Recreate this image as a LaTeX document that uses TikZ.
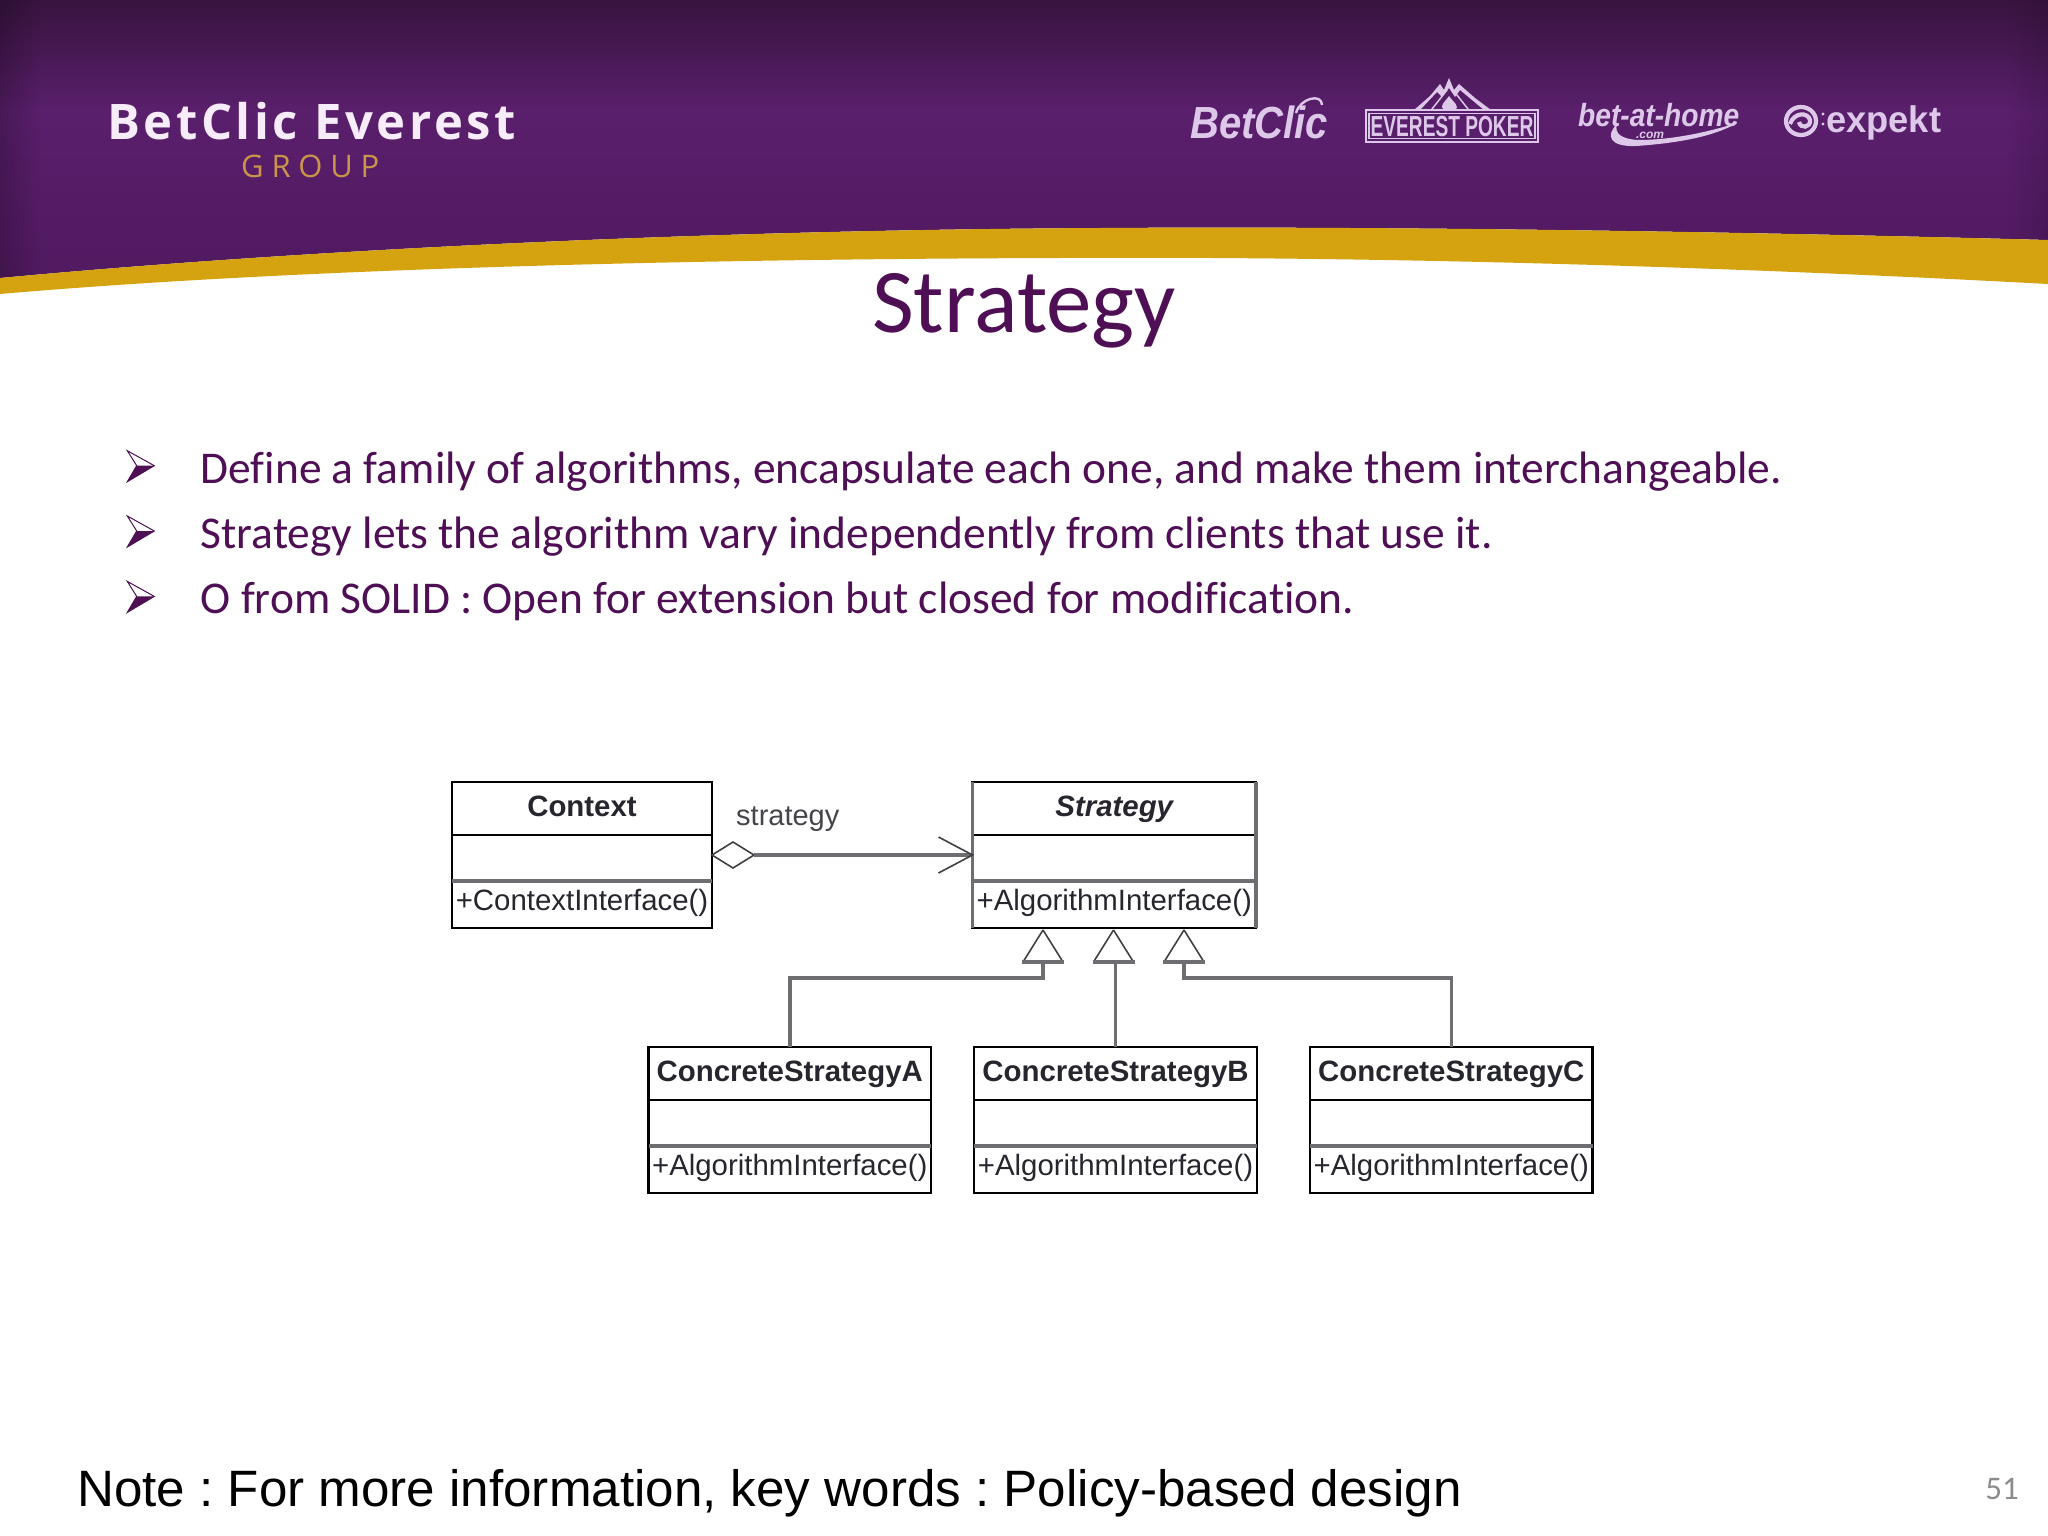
\documentclass[tikz,border=0pt]{standalone}
\usepackage{fontspec}
\usetikzlibrary{fadings,calc}
\setmainfont{Liberation Sans}
\newfontfamily\calfont[Ligatures=NoCommon]{Carlito}
\newfontfamily\logofont[LetterSpace=7.3]{Open Sans}
\newfontfamily\grpfont[LetterSpace=25]{Open Sans}
\newcommand\fsz[1]{\fontsize{#1}{#1}\selectfont}
\definecolor{slidepurple}{HTML}{4F0F55}
\definecolor{gold}{HTML}{D5A30F}
\definecolor{lilac}{HTML}{DDC8EA}
\definecolor{umlgray}{HTML}{6E6E72}
\definecolor{umltext}{HTML}{26262E}
\definecolor{bantop}{HTML}{38143F}
\definecolor{banmid}{HTML}{5A1F6C}
\definecolor{banlow}{HTML}{5E2172}
\definecolor{banbot}{HTML}{50195F}
\definecolor{brandwhite}{HTML}{F7ECFA}
\definecolor{groupgold}{HTML}{C9954A}
\definecolor{labelgray}{HTML}{45454A}
\definecolor{pagegray}{HTML}{8C8C8C}
\tikzset{
  classbox/.style={draw=black,line width=2.4pt,fill=white,inner sep=0pt,outer sep=0pt},
  thinrule/.style={draw=black,line width=2.2pt},
  thickrule/.style={draw=umlgray,line width=4pt},
  connector/.style={draw=umlgray,line width=3.5pt},
  headline/.style={draw=black!75,line width=1.6pt},
  tl/.style={anchor=base,inner sep=0pt,text=umltext},
  bullettext/.style={anchor=base west,inner sep=0pt,text=slidepurple,font=\calfont\fsz{45.45}},
  logotext/.style={inner sep=0pt,text=lilac}
}
% name, x1, x2, top, title, method
\newcommand\umlbox[6]{%
  \node[classbox,minimum width={(#3-#2)*1pt},minimum height=146pt] (#1) at ({(#2+#3)/2},{#4+73}) {};
  \draw[thinrule] (#2,#4+53) -- (#3,#4+53);
  \draw[thickrule] (#2,#4+98.5) -- (#3,#4+98.5);
  \node[tl,font=\fsz{29.4}\bfseries] (#1title) at ({(#2+#3)/2},#4+34.7) {#5};
  \node[tl,font=\fsz{29.4}] (#1method) at ({(#2+#3)/2},#4+128) {#6};
}
\newcommand\bulletarrow[1]{%
  \fill[slidepurple] (136.7,#1) -- (154.3,#1) -- (127.3,#1+16) -- cycle;
  \draw[slidepurple,line width=1pt,line join=miter] (136.7,#1) -- (127.3,#1-15) -- (154.3,#1) -- (127.3,#1+16) -- cycle;
}
\begin{document}
\frenchspacing
\begin{tikzpicture}[x=1pt,y=-1pt]
\useasboundingbox (0,0) rectangle (2048,1536);
\fill[white] (0,0) rectangle (2048,1536);
% banner
\begin{scope}
  \clip (0,0) -- (2048,0) -- (2048,240) .. controls (1750,232) and (1400,226) .. (1100,228) .. controls (700,230) and (300,250) .. (0,278) -- cycle;
  \shade[top color=bantop,bottom color=banmid] (0,0) rectangle (2048,112);
  \shade[top color=banmid,middle color=banlow,bottom color=banbot] (0,112) rectangle (2048,290);
  \fill[black,path fading=east,opacity=.2] (0,0) rectangle (40,290);
  \fill[black,path fading=west,opacity=.12] (2008,0) rectangle (2048,290);
\end{scope}
\fill[gold] (0,278) .. controls (300,250) and (700,230) .. (1100,228) .. controls (1400,226) and (1750,232) .. (2048,240) -- (2048,284) .. controls (1750,268) and (1400,256) .. (1060,258) .. controls (700,259) and (300,268) .. (0,294) -- cycle;
% logos
\node[anchor=base west,inner sep=0pt,text=brandwhite,font=\logofont\fsz{49}\bfseries] (brand) at (107,140) {BetClic Everest};
\node[anchor=base west,inner sep=0pt,text=groupgold,font=\grpfont\fsz{31}] (group) at (241,178) {GROUP};
\node[logotext,anchor=base west,xscale=.89,font=\fsz{45}\bfseries\itshape] (betclic) at (1190,139) {BetClic};
\draw[lilac,line width=2.4pt] (1296,113) .. controls (1300,98) and (1322,93) .. (1322,105);
% everest poker
\draw[lilac,line width=2.6pt] (1366,110) rectangle (1538,142);
\draw[lilac,line width=1.4pt] (1369,113.5) rectangle (1535,138.5);
\fill[lilac] (1414,110) -- (1430,96) -- (1440,84) -- (1444,90) -- (1449,78) -- (1454,90) -- (1459,84) -- (1475,98) -- (1491,110) -- (1484,110) -- (1460,90) -- (1455,97) -- (1449,88) -- (1442,97) -- (1437,92) -- (1420,110) -- cycle;
\draw[lilac,line width=1.5pt] (1432,109) -- (1447,90) (1468,109) -- (1453,90);
\fill[lilac] (1449,96) .. controls (1444,103) and (1439,106) .. (1444,110) -- (1455,110) .. controls (1460,106) and (1454,103) .. (1449,96) -- cycle;
\node[logotext,xscale=.66,font=\fsz{29}\bfseries] (everest) at (1452,126.5) {EVEREST POKER};
% bet-at-home
\node[logotext,anchor=base west,xscale=.88,font=\fsz{32}\bfseries\itshape] (bah) at (1578,127) {bet-at-home};
\fill[lilac] (1617,124) .. controls (1605,136) and (1610,147) .. (1636,146) .. controls (1680,143) and (1715,136) .. (1737,123) .. controls (1705,133) and (1670,140) .. (1638,140) .. controls (1622,139) and (1614,134) .. (1617,124) -- cycle;
\node[logotext,font=\fsz{12}\bfseries\itshape] (bahcom) at (1650,135) {.com};
% expekt
\draw[lilac,line width=4.2pt] (1801,121) ellipse [x radius=15,y radius=14];
\draw[lilac,line width=4.2pt] (1790,124) .. controls (1794,112) and (1808,112) .. (1810,120) .. controls (1811,128) and (1800,129) .. (1799,122);
\fill[lilac] (1823,114) circle (1.6) (1823,124) circle (1.6);
\node[logotext,anchor=base west,xscale=.98,font=\fsz{37}\bfseries] (expekt) at (1826,132) {expekt};
% title
\node[anchor=base,inner sep=0pt,text=slidepurple,font=\calfont\fsz{91}] (title) at (1024,332) {Strategy};
% bullets
\bulletarrow{465.7}
\bulletarrow{531}
\bulletarrow{596.4}
\node[bullettext] (b1) at (200.5,483) {Define a family of algorithms, encapsulate each one, and make them interchangeable.};
\node[bullettext] (b2) at (200.5,548.2) {Strategy lets the algorithm vary independently from clients that use it.};
\node[bullettext] (b3) at (200.5,613.8) {O from SOLID : Open for extension but closed for modification.};
% classes
\umlbox{ctx}{452}{712}{782}{Context}{+ContextInterface()}
\umlbox{stg}{972.5}{1256}{782}{\itshape Strategy}{+AlgorithmInterface()}
\umlbox{csa}{648.5}{931}{1047}{ConcreteStrategyA}{+AlgorithmInterface()}
\umlbox{csb}{974}{1257}{1047}{ConcreteStrategyB}{+AlgorithmInterface()}
\umlbox{csc}{1310}{1592.5}{1047}{ConcreteStrategyC}{+AlgorithmInterface()}
\draw[connector] (stg.north west) -- (stg.south west);
\draw[connector] (stg.north east) -- (stg.south east);
% aggregation
\coordinate (diaend) at ($(ctx.east)+(42,0)$);
\draw[headline] (ctx.east) -- ++(21,-13) -- (diaend) -- ++(-21,13) -- cycle;
\draw[connector] (diaend) -- (stg.west);
\draw[headline] ($(stg.west)+(-34,-18)$) -- (stg.west) -- ($(stg.west)+(-34,18)$);
\node[anchor=base west,inner sep=0pt,text=labelgray,font=\fsz{29}] (assoclabel) at (736,825) {strategy};
% generalisation heads
\foreach \n/\x in {ta/1043,tb/1113.5,tc/1184}{
  \coordinate (\n) at (\x,962);
  \draw[headline] (\x,930) -- (\x-20,962);
  \draw[headline] (\x,930) -- (\x+20,962);
  \draw[thickrule] (\x-21,962) -- (\x+21,962);
}
\draw[connector,line join=miter] (csa.north) |- (1043,978) -- (ta);
\draw[connector] (csb.north) -- (csb.north |- tb);
\draw[connector,line join=miter] (csc.north) |- (1184,978) -- (tc);
% footer
\node[anchor=base west,inner sep=0pt,font=\fsz{51.15}] (note) at (77,1506) {Note : For more information, key words : Policy-based design};
\node[anchor=base east,inner sep=0pt,text=pagegray,font=\calfont\fsz{33}] (pageno) at (2019,1499) {51};
\end{tikzpicture}
\end{document}
